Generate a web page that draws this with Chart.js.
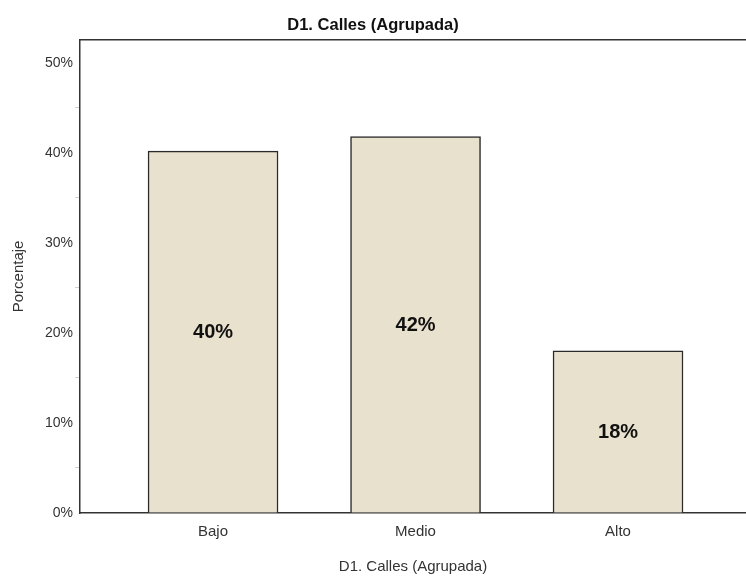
<!DOCTYPE html>
<html>
<head>
<meta charset="utf-8">
<script src="https://cdn.jsdelivr.net/npm/chart.js@4"></script>
<style>
  html, body { margin: 0; padding: 0; background: #ffffff; }
  #wrap { width: 746px; height: 580px; }
</style>
</head>
<body>
<div id="wrap"><canvas id="c" width="746" height="580"></canvas></div>
<script>
const chartTitle = "D1. Calles (Agrupada)";
const categories = ["Bajo", "Medio", "Alto"];
const percentages = [40.2, 41.8, 18.0];
const yTickValues = [0, 10, 20, 30, 40, 50];
const yAxisTitle = "Porcentaje";
const xAxisTitle = "D1. Calles (Agrupada)";

const FONT = "'Liberation Sans Narrow', 'Liberation Sans', Arial, sans-serif";

const points = categories.map((c, i) => ({ x: i, y: percentages[i] }));

const frameTop = {
  id: 'frameTop',
  afterDraw(chart) {
    const { ctx, chartArea } = chart;
    ctx.save();
    ctx.strokeStyle = '#333333';
    ctx.lineWidth = 1.5;
    ctx.beginPath();
    ctx.moveTo(chartArea.left, chartArea.top);
    ctx.lineTo(chartArea.right, chartArea.top);
    ctx.stroke();
    ctx.restore();
  }
};

const barLabels = {
  id: 'barLabels',
  afterDatasetsDraw(chart) {
    const { ctx } = chart;
    const meta = chart.getDatasetMeta(0);
    ctx.save();
    ctx.font = "bold 20px " + FONT;
    ctx.fillStyle = '#111111';
    ctx.textAlign = 'center';
    ctx.textBaseline = 'middle';
    meta.data.forEach((bar, i) => {
      const p = bar.getProps(['x', 'y', 'base'], true);
      ctx.fillText(Math.round(percentages[i]) + '%', p.x, (p.y + p.base) / 2 + 1);
    });
    ctx.restore();
  }
};

new Chart(document.getElementById('c'), {
  type: 'bar',
  data: {
    datasets: [{
      data: points,
      backgroundColor: '#E8E1CD',
      borderColor: '#2a2a2a',
      borderWidth: 1.5,
      barThickness: 130
    }]
  },
  options: {
    responsive: false,
    animation: false,
    devicePixelRatio: 1,
    layout: { padding: { left: 0, right: 0, top: 0, bottom: 0 } },
    plugins: {
      legend: { display: false },
      tooltip: { enabled: false },
      title: {
        display: true,
        text: chartTitle,
        color: '#111111',
        font: { family: FONT, size: 16.5, weight: 'bold', lineHeight: 1.2 },
        padding: { top: 16, bottom: 4 }
      }
    },
    scales: {
      x: {
        type: 'linear',
        offset: false,
        min: -0.657,
        max: 2.632,
        afterFit(scale) {
          scale.height = 67;
          scale.paddingLeft = 0;
          scale.paddingRight = 0;
        },
        grid: { display: false, drawTicks: false, offset: false },
        border: { display: true, color: '#333333', width: 1.5 },
        ticks: {
          stepSize: 1,
          autoSkip: false,
          maxRotation: 0,
          padding: 10,
          color: '#333333',
          font: { family: FONT, size: 15 },
          callback(v) {
            return (Number.isInteger(v) && categories[v] !== undefined) ? categories[v] : '';
          }
        },
        title: {
          display: true,
          text: xAxisTitle,
          color: '#333333',
          font: { family: FONT, size: 15 },
          padding: { top: 4, bottom: 4 }
        }
      },
      y: {
        min: 0,
        max: 52.56,
        afterFit(scale) { scale.width = 80; },
        afterBuildTicks(scale) {
          const t = [];
          for (let v = 0; v <= 50; v += 5) t.push({ value: v });
          scale.ticks = t;
        },
        grid: {
          drawOnChartArea: false,
          drawTicks: true,
          tickLength: 5,
          color(ctx) {
            const v = ctx.tick ? ctx.tick.value : 0;
            return (v % 10 === 0) ? 'rgba(0,0,0,0)' : '#cfcfcf';
          }
        },
        border: { display: true, color: '#333333', width: 1.5 },
        ticks: {
          padding: 2,
          color: '#333333',
          font: { family: FONT, size: 14 },
          callback(v) {
            return yTickValues.includes(v) ? v + '%' : '';
          }
        },
        title: {
          display: true,
          text: yAxisTitle,
          color: '#333333',
          font: { family: FONT, size: 15 },
          padding: { top: 10, bottom: 4 }
        }
      }
    }
  },
  plugins: [frameTop, barLabels]
});
</script>
</body>
</html>
